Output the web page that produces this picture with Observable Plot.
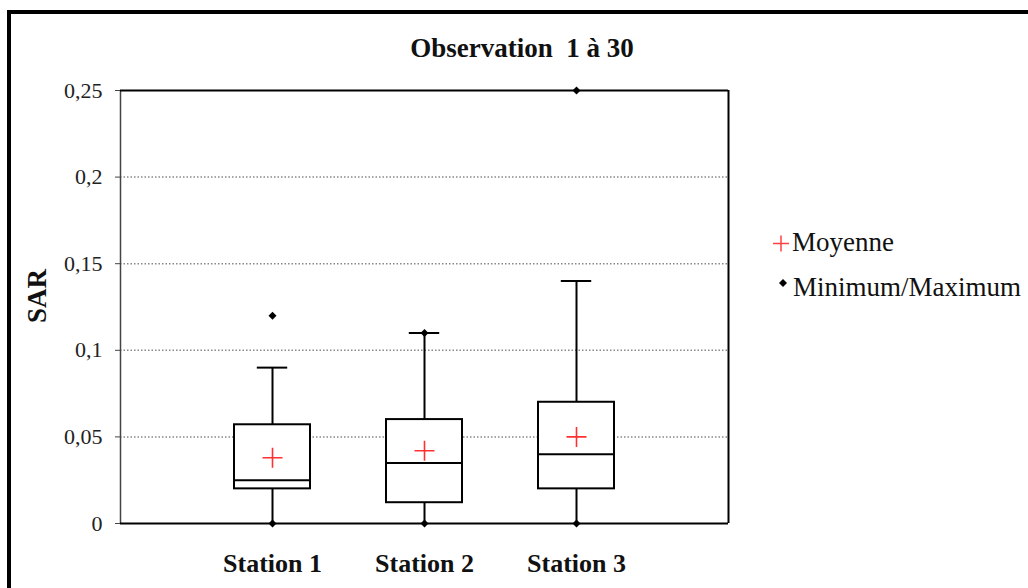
<!DOCTYPE html>
<html>
<head>
<meta charset="utf-8">
<script src="https://cdn.jsdelivr.net/npm/d3@7"></script>
<script src="https://cdn.jsdelivr.net/npm/@observablehq/plot@0.6"></script>
<style>
  html, body { margin: 0; padding: 0; background: #fff; }
  body { width: 1028px; height: 588px; position: relative; overflow: hidden; font-family: "Liberation Serif", "Times New Roman", serif; }
  #chart { position: absolute; left: 0; top: 0; }
  .border { position: absolute; left: 7px; top: 10px; width: 1100px; height: 700px; border: 4px solid #000; box-sizing: border-box; }
  .txt { position: absolute; line-height: 27px; font-size: 27px; white-space: pre; color: #111; font-family: "Liberation Serif", "Times New Roman", serif; }
  .title { left: 0; width: 1044px; top: 35px; text-align: center; font-weight: bold; }
  .ylab { left: 37px; top: 296px; font-weight: bold; transform: translate(-50%, -50%) rotate(-90deg); }
  .sym { position: absolute; }
</style>
</head>
<body>
<div class="border"></div>
<div id="chart"></div>
<div class="txt title">Observation  1 à 30</div>
<div class="txt ylab">SAR</div>
<svg class="sym" style="left:773px; top:235px" width="17" height="17"><path d="M0,8.5H16M8,0.5V16.5" stroke="#ff4040" stroke-width="1.5" fill="none"/></svg>
<div class="txt" style="left:792px; top:229px;">Moyenne</div>
<svg class="sym" style="left:779px; top:279px" width="8" height="8"><path d="M4,0L8,4L4,8L0,4Z" fill="#000"/></svg>
<div class="txt" style="left:793px; top:274px;">Minimum/Maximum</div>
<script>
// ---- data ----
const stations = ["Station 1", "Station 2", "Station 3"];
const minimum = [0, 0, 0];
const q1 = [0.02, 0.012, 0.02];
const median = [0.025, 0.035, 0.04];
const q3 = [0.057, 0.06, 0.07];
const whiskerHigh = [0.09, 0.11, 0.14];
const mean = [0.038, 0.042, 0.05];
const maximum = [0.12, 0.11, 0.25];
const yTicks = [0, 0.05, 0.1, 0.15, 0.2, 0.25];
const gridTicks = [0.05, 0.1, 0.15, 0.2];
const xDomain = [0, 4];
const yDomain = [0, 0.25];

const boxHalf = 0.25;
const capHalf = 0.1;

const rows = stations.map((s, i) => ({
  pos: i + 1, station: s,
  min: minimum[i], q1: q1[i], median: median[i], q3: q3[i],
  hi: whiskerHigh[i], mean: mean[i], max: maximum[i]
}));
const extremes = rows.flatMap(r => [{pos: r.pos, v: r.min}, {pos: r.pos, v: r.max}]);

const plusSymbol = {
  draw(ctx, size) {
    const r = Math.sqrt(size / Math.PI);
    ctx.moveTo(-r, 0); ctx.lineTo(r, 0);
    ctx.moveTo(0, -r); ctx.lineTo(0, r);
  }
};
const diamondSymbol = {
  draw(ctx, size) {
    const r = Math.sqrt(size / Math.PI);
    ctx.moveTo(0, -r); ctx.lineTo(r, 0); ctx.lineTo(0, r); ctx.lineTo(-r, 0); ctx.closePath();
  }
};

const chart = Plot.plot({
  width: 1028,
  height: 588,
  marginLeft: 120,
  marginRight: 300,
  marginTop: 90,
  marginBottom: 65,
  style: { fontFamily: "'Liberation Serif', 'Times New Roman', serif", fontSize: "22px", color: "#222", background: "transparent" },
  x: { domain: xDomain, axis: null },
  y: { domain: yDomain, axis: null },
  marks: [
    Plot.ruleY(gridTicks, { stroke: "#888", strokeWidth: 1.5, strokeDasharray: "1.5,2" }),
    Plot.axisY({ ticks: yTicks, tickFormat: d => String(d).replace(".", ","), tickSize: 5, tickPadding: 13, fontSize: 22, stroke: "#444", label: null }),
    Plot.axisX({ ticks: [1, 2, 3], tickFormat: d => stations[d - 1], tickSize: 0, tickPadding: 30, fontSize: 26, fontWeight: "bold", fill: "#111", label: null }),
    // whiskers
    Plot.ruleX(rows, { x: "pos", y1: "min", y2: "q1", stroke: "#000", strokeWidth: 2 }),
    Plot.ruleX(rows, { x: "pos", y1: "q3", y2: "hi", stroke: "#000", strokeWidth: 2 }),
    Plot.ruleY(rows, { y: "hi", x1: d => d.pos - capHalf, x2: d => d.pos + capHalf, stroke: "#000", strokeWidth: 2 }),
    // boxes
    Plot.rect(rows, { x1: d => d.pos - boxHalf, x2: d => d.pos + boxHalf, y1: "q1", y2: "q3", fill: "#fff", stroke: "#000", strokeWidth: 2 }),
    Plot.ruleY(rows, { y: "median", x1: d => d.pos - boxHalf, x2: d => d.pos + boxHalf, stroke: "#000", strokeWidth: 2 }),
    // frame
    Plot.ruleX([xDomain[0]], { stroke: "#444", strokeWidth: 1.5 }),
    Plot.ruleX([xDomain[1]], { stroke: "#000", strokeWidth: 2 }),
    Plot.ruleY([yDomain[1]], { stroke: "#000", strokeWidth: 2 }),
    Plot.ruleY([yDomain[0]], { stroke: "#000", strokeWidth: 2 }),
    // mean
    Plot.dot(rows, { x: "pos", y: "mean", symbol: plusSymbol, r: 10, stroke: "#ff3030", strokeWidth: 1.6, fill: "none" }),
    // min / max
    Plot.dot(extremes, { x: "pos", y: "v", symbol: diamondSymbol, r: 4, fill: "#000", stroke: "none" })
  ]
});
document.getElementById("chart").appendChild(chart);
</script>
</body>
</html>
